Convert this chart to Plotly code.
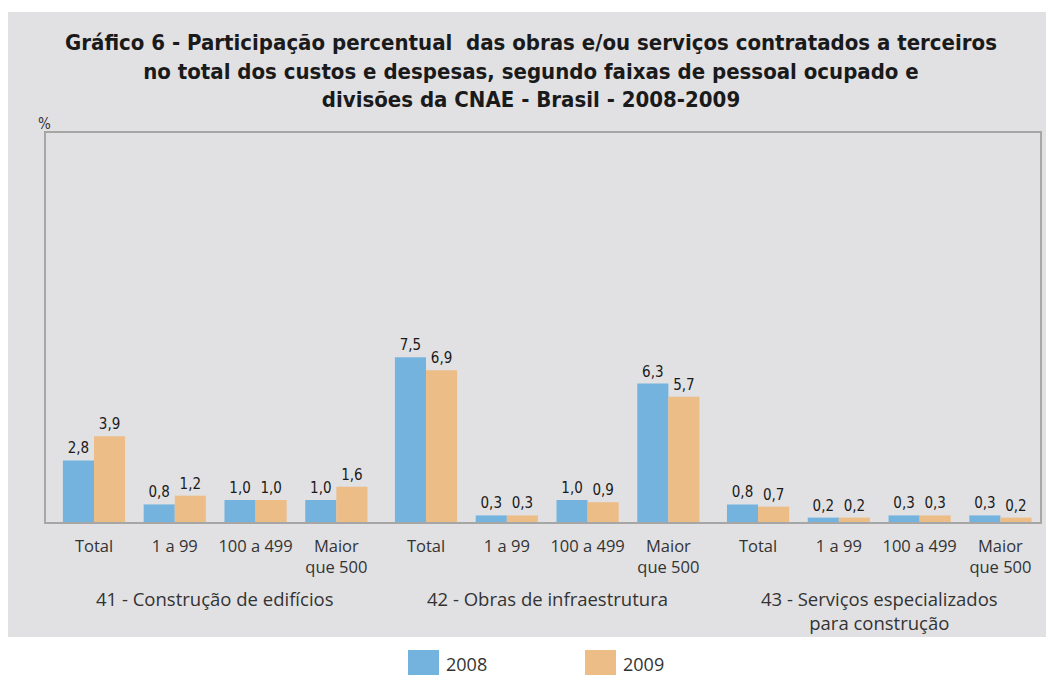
import plotly.graph_objects as go

groups = ["41 - Construção de edifícios", "42 - Obras de infraestrutura",
          "43 - Serviços especializados<br>para construção"]
bands = ["Total", "1 a 99", "100 a 499", "Maior<br>que 500"]
v2008 = [2.8, 0.8, 1.0, 1.0, 7.5, 0.3, 1.0, 6.3, 0.8, 0.2, 0.3, 0.3]
v2009 = [3.9, 1.2, 1.0, 1.6, 6.9, 0.3, 0.9, 5.7, 0.7, 0.2, 0.3, 0.2]
years = ["2008", "2009"]
colors = ["#75b3df", "#ecbd87"]

GSTEP = 4.11
xs = [g * GSTEP + i for g in range(len(groups)) for i in range(len(bands))]
ticktext = [b for _ in groups for b in bands]

fig = go.Figure()
for name, vals, col in zip(years, [v2008, v2009], colors):
    fig.add_trace(go.Bar(
        x=xs, y=vals, name=name, marker=dict(color=col, line=dict(width=0)),
        texttemplate="%{y:.1f}", textposition="outside",
        textfont=dict(family="DejaVu Sans Condensed, Liberation Sans Narrow, Arial", size=15, color="#1a1a1a"),
        cliponaxis=False, showlegend=False,
    ))

OFF = 8  # page body margin
W, H = 1054 - OFF, 675 - OFF
L, R, T = 46 - OFF, 14, 133 - OFF
B = H - (522 - OFF)
pw, ph = W - L - R, H - T - B

def px_x(p):
    return (p - OFF - L) / pw

def px_y(p):
    return (H - B - (p - OFF)) / ph

shapes = [dict(type="rect", xref="paper", yref="paper", layer="below",
               x0=px_x(8), x1=px_x(1050), y0=px_y(637), y1=px_y(12),
               fillcolor="#e1e1e3", line=dict(width=0))]
annotations = []
for g, gname in enumerate(groups):
    annotations.append(dict(x=g * GSTEP + 1.5, xref="x", y=px_y(584), yref="paper",
                            text=gname, showarrow=False, yanchor="top",
                            font=dict(family="Open Sans, Noto Sans, Arial", size=18.5, color="#333333")))
annotations.append(dict(x=px_x(36), xref="paper", y=px_y(113), yref="paper", text="%",
                        showarrow=False, xanchor="left", yanchor="top",
                        font=dict(family="DejaVu Sans Condensed, Arial", size=15, color="#333333")))
# legend
for i, (name, col) in enumerate(zip(years, colors)):
    x0 = [408, 585][i]
    shapes.append(dict(type="rect", xref="paper", yref="paper",
                       x0=px_x(x0), x1=px_x(x0 + 31), y0=px_y(675), y1=px_y(650),
                       fillcolor=col, line=dict(width=0)))
    annotations.append(dict(x=px_x(x0 + 36), xref="paper", y=px_y(664), yref="paper",
                            text=name, showarrow=False, xanchor="left", yanchor="middle",
                            font=dict(family="Open Sans, Noto Sans, Arial", size=18, color="#333333")))

fig.update_layout(
    width=W, height=H,
    margin=dict(l=L, r=R, t=T, b=B, autoexpand=False),
    paper_bgcolor="white", plot_bgcolor="white",
    separators=",.",
    barmode="group", bargap=0.23, bargroupgap=0,
    title=dict(text="Gráfico 6 - Participação percentual  das obras e/ou serviços contratados a terceiros<br>"
                    "no total dos custos e despesas, segundo faixas de pessoal ocupado e<br>"
                    "divisões da CNAE - Brasil - 2008-2009",
               x=0.5, xanchor="center", xref="container", y=1 - 42 / H, yanchor="top", yref="container",
               font=dict(family="DejaVu Sans Condensed, Liberation Sans Narrow, Arial", size=22,
                         color="#1a1a1a", weight="bold")),
    xaxis=dict(tickmode="array", tickvals=xs, ticktext=ticktext, range=[-0.594, 11.71],
               showgrid=False, zeroline=False, ticks="", ticklabelstandoff=8,
               showline=True, mirror=True, linecolor="#a6a6a6", linewidth=2,
               tickfont=dict(family="Open Sans, Noto Sans, Arial", size=16.5, color="#333333")),
    yaxis=dict(range=[0, 17.7], showticklabels=False, showgrid=False, zeroline=False, ticks="",
               showline=True, mirror=True, linecolor="#a6a6a6", linewidth=2),
    shapes=shapes, annotations=annotations,
)

fig.write_html("out.html")
